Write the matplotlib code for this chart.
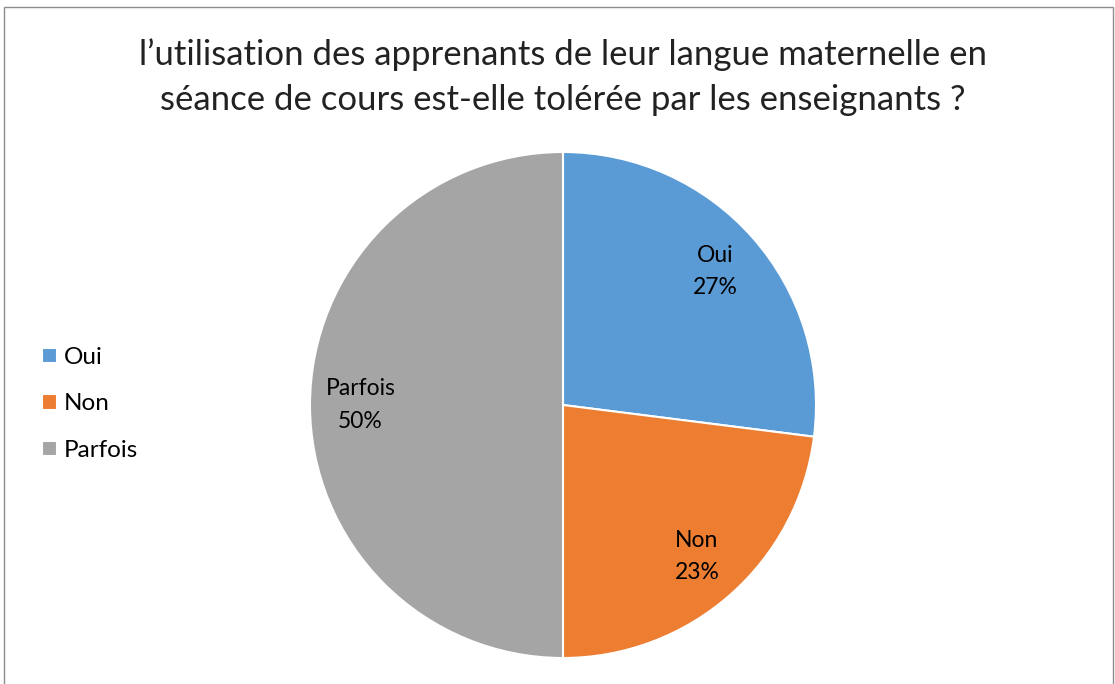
import matplotlib.pyplot as plt
from matplotlib.patches import Rectangle

categories = ["Oui", "Non", "Parfois"]
percents = [27, 23, 50]
colors = ["#5B9BD5", "#ED7D31", "#A5A5A5"]
title = "l\u2019utilisation des apprenants de leur langue maternelle en\ns\u00e9ance de cours est-elle tol\u00e9r\u00e9e par les enseignants ?"

plt.rcParams['font.family'] = ['Lato', 'DejaVu Sans']

W, H = 1115, 684
fig = plt.figure(figsize=(W / 100, H / 100), dpi=100)

# pie axes: centre (563,405), radius 253 px
cx, cy, r = 563, 405, 253
ax = fig.add_axes([(cx - r) / W, (H - cy - r) / H, 2 * r / W, 2 * r / H])
labels = [f"{c}\n{p}%" for c, p in zip(categories, percents)]
wedges, texts = ax.pie(percents, colors=colors, startangle=90, counterclock=False,
                       labels=labels, labeldistance=0.8,
                       wedgeprops=dict(edgecolor="white", linewidth=1.5))
for t in texts:
    t.set_ha("center")
    t.set_va("center")
    t.set_fontsize(16.5)
    t.set_linespacing(1.65)
ax.set_xlim(-1, 1)
ax.set_ylim(-1, 1)
ax.set_aspect("equal")

fig.text(563 / W, 1 - 77 / H, title, ha="center", va="center", fontsize=25,
         linespacing=1.5, color="#222222")

leg = fig.legend(wedges, categories, loc="center left", bbox_to_anchor=(0.018, 1 - 404 / H),
                 frameon=False, fontsize=17.5, labelspacing=1.05, handlelength=0.6,
                 handleheight=0.6, handletextpad=0.3)

fig.patches.append(Rectangle((4 / W, -0.02), (1113 - 4) / W, 1.02 - 7 / H,
                             transform=fig.transFigure, fill=False,
                             edgecolor="#8c8c8c", linewidth=1))

fig.savefig("out.png", dpi=100)
